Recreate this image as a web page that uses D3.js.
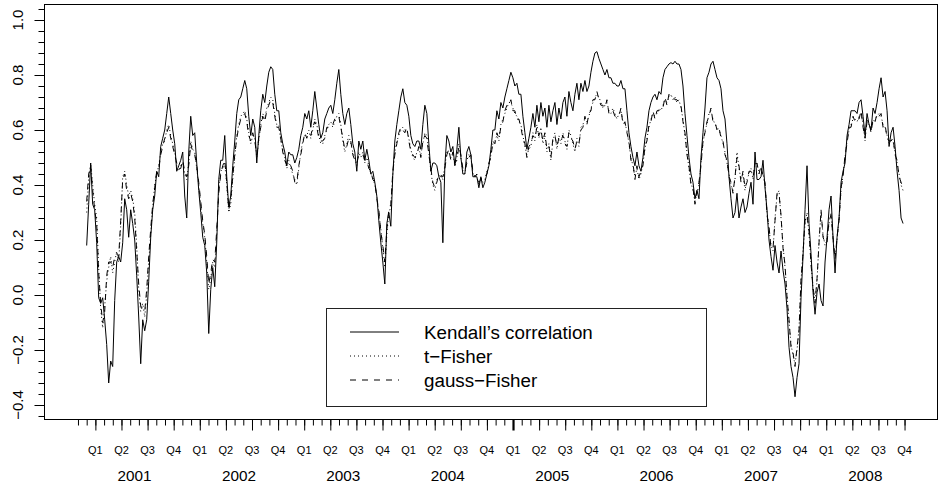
<!DOCTYPE html>
<html>
<head>
<meta charset="utf-8">
<script src="https://cdn.jsdelivr.net/npm/d3@7"></script>
<style>
	body { margin: 0; background: #fff; }
	svg { display: block; font-family: "Liberation Sans", Arial, Helvetica, sans-serif; }
</style>
</head>
<body>
<div id="chart"></div>
<script>
// weekly observations, first one in the first week of 2001
const startYear = 2001;
const years = [2001, 2002, 2003, 2004, 2005, 2006, 2007, 2008];
const quarters = ["Q1", "Q2", "Q3", "Q4"];
const yLabels = [-0.4, -0.2, 0.0, 0.2, 0.4, 0.6, 0.8, 1.0];
const seriesNames = ["Kendall\u2019s correlation", "t\u2212Fisher", "gauss\u2212Fisher"];

const kendall = [
	0.18,0.33,0.48,0.33,0.31,0.19,-0.01,-0.03,-0.01,-0.09,
	-0.18,-0.32,-0.24,-0.26,-0.02,0.12,0.14,0.12,0.19,0.35,
	0.31,0.21,0.31,0.26,0.20,0.07,-0.08,-0.25,-0.09,-0.13,
	-0.09,0.05,0.21,0.31,0.36,0.45,0.43,0.54,0.57,0.60,
	0.66,0.72,0.66,0.60,0.55,0.45,0.47,0.49,0.52,0.36,
	0.28,0.52,0.65,0.58,0.59,0.48,0.38,0.30,0.21,0.18,
	0.08,-0.14,0.02,0.10,0.03,0.19,0.42,0.49,0.49,0.58,
	0.43,0.32,0.36,0.47,0.56,0.66,0.71,0.72,0.75,0.78,
	0.75,0.65,0.58,0.64,0.61,0.48,0.58,0.67,0.73,0.70,
	0.76,0.81,0.83,0.82,0.73,0.67,0.67,0.59,0.55,0.52,
	0.47,0.52,
	0.51,0.51,0.48,0.50,0.53,0.58,0.61,0.66,0.64,0.67,
	0.61,0.67,0.74,0.68,0.62,0.57,0.59,0.64,0.66,0.68,
	0.69,0.66,0.71,0.77,0.82,0.73,0.66,0.62,0.66,0.68,
	0.62,0.55,0.52,0.45,0.56,0.53,0.56,0.49,0.53,0.49,
	0.44,0.45,0.41,0.36,0.27,0.19,0.12,0.04,0.26,0.30,
	0.25,0.44,0.56,0.62,0.67,0.72,0.75,0.70,0.69,0.65,
	0.58,0.55,0.54,0.56,0.56,0.53,0.62,0.69,0.66,0.55,
	0.45,0.48,0.48,0.47,0.43,0.41,0.19,0.47,0.58,0.56,
	0.52,0.54,0.47,0.53,0.61,0.50,0.44,0.44,0.52,0.54,
	0.51,0.43,0.43,0.43,0.39,0.43,0.39,0.41,0.44,0.47,
	0.53,0.60,
	0.60,0.67,0.64,0.70,0.68,0.72,0.75,0.78,0.81,0.79,
	0.76,0.77,0.73,0.73,0.65,0.59,0.53,0.57,0.61,0.66,
	0.61,0.69,0.63,0.70,0.65,0.68,0.61,0.69,0.63,0.67,
	0.70,0.62,0.68,0.64,0.70,0.72,0.65,0.74,0.70,0.67,
	0.73,0.77,0.71,0.77,0.74,0.78,0.74,0.76,0.81,0.85,
	0.88,0.885,0.86,0.84,0.82,0.80,0.82,0.79,0.79,0.77,
	0.77,0.76,0.76,0.78,0.75,0.75,0.67,0.59,0.54,0.50,
	0.47,0.52,0.47,0.45,0.50,0.57,0.61,0.67,0.70,0.72,
	0.73,0.71,0.74,0.73,0.79,0.82,0.83,0.84,0.845,0.84,
	0.85,0.84,0.84,0.82,0.76,0.66,0.58,0.50,0.44,0.41,
	0.35,0.38,
	0.35,0.50,0.59,0.68,0.79,0.81,0.84,0.85,0.82,0.79,
	0.78,0.75,0.67,0.64,0.55,0.43,0.35,0.28,0.30,0.37,
	0.28,0.32,0.35,0.30,0.32,0.37,0.41,0.33,0.52,0.42,
	0.42,0.43,0.49,0.39,0.31,0.20,0.14,0.09,0.18,0.12,
	0.08,0.16,0.09,0.04,-0.05,-0.19,-0.26,-0.30,-0.37,-0.30,
	-0.25,-0.01,0.14,0.31,0.47,0.26,0.15,0.01,-0.07,0.01,
	0.04,-0.02,-0.04,0.12,0.21,0.31,0.36,0.21,0.08,0.21,
	0.28,0.41,0.45,0.48,0.58,0.62,0.67,0.67,0.67,0.66,
	0.70,0.71,0.65,0.58,0.66,0.62,0.60,0.68,0.66,0.70,
	0.75,0.79,0.72,0.74,0.67,0.54,0.59,0.61,0.54,0.45,
	0.38,0.28,0.26
];

const tFisher = [
	0.30,0.42,0.48,0.40,0.33,0.28,0.10,-0.05,-0.12,-0.04,
	0.05,0.10,0.14,0.08,0.12,0.16,0.12,0.25,0.43,0.45,
	0.40,0.36,0.38,0.35,0.30,0.18,0.02,-0.06,-0.03,-0.08,
	0.00,0.12,0.22,0.32,0.40,0.44,0.47,0.52,0.55,0.56,
	0.60,0.62,0.58,0.55,0.52,0.47,0.45,0.47,0.48,0.44,
	0.42,0.48,0.56,0.53,0.52,0.46,0.40,0.33,0.26,0.21,
	0.12,0.02,0.06,0.12,0.10,0.22,0.38,0.45,0.46,0.48,
	0.40,0.30,0.33,0.42,0.50,0.58,0.62,0.65,0.66,0.67,
	0.64,0.59,0.55,0.58,0.57,0.50,0.56,0.62,0.66,0.64,
	0.68,0.70,0.72,0.71,0.66,0.62,0.62,0.56,0.53,0.50,
	0.46,0.49,
	0.46,0.44,0.42,0.40,0.46,0.52,0.56,0.58,0.58,0.60,
	0.57,0.60,0.64,0.62,0.58,0.55,0.55,0.58,0.60,0.62,
	0.63,0.61,0.63,0.65,0.66,0.62,0.56,0.52,0.55,0.58,
	0.55,0.52,0.50,0.47,0.52,0.50,0.52,0.48,0.50,0.47,
	0.44,0.43,0.40,0.36,0.30,0.24,0.17,0.10,0.22,0.30,
	0.32,0.44,0.52,0.56,0.58,0.60,0.61,0.60,0.60,0.57,
	0.53,0.50,0.49,0.52,0.53,0.51,0.55,0.59,0.58,0.52,
	0.45,0.40,0.38,0.42,0.43,0.44,0.42,0.47,0.52,0.52,
	0.50,0.51,0.47,0.50,0.55,0.50,0.45,0.44,0.49,0.51,
	0.50,0.44,0.44,0.43,0.40,0.43,0.41,0.42,0.45,0.47,
	0.51,0.55,
	0.56,0.58,0.56,0.62,0.64,0.66,0.68,0.70,0.70,0.68,
	0.66,0.65,0.63,0.62,0.58,0.54,0.51,0.53,0.54,0.59,
	0.56,0.62,0.57,0.61,0.55,0.58,0.52,0.55,0.49,0.56,
	0.59,0.53,0.58,0.55,0.59,0.56,0.53,0.60,0.58,0.55,
	0.52,0.57,0.54,0.61,0.62,0.64,0.63,0.65,0.68,0.70,
	0.72,0.73,0.72,0.70,0.68,0.69,0.70,0.67,0.66,0.68,
	0.66,0.64,0.66,0.67,0.63,0.62,0.60,0.55,0.50,0.47,
	0.43,0.46,0.42,0.44,0.48,0.53,0.57,0.61,0.64,0.66,
	0.65,0.66,0.68,0.67,0.69,0.71,0.70,0.72,0.73,0.71,
	0.72,0.70,0.71,0.68,0.64,0.58,0.52,0.46,0.41,0.38,
	0.34,0.37,
	0.40,0.48,0.55,0.60,0.62,0.66,0.67,0.64,0.62,0.61,
	0.60,0.58,0.55,0.52,0.48,0.44,0.40,0.38,0.42,0.52,
	0.46,0.42,0.44,0.38,0.42,0.44,0.46,0.42,0.48,0.47,
	0.45,0.46,0.44,0.40,0.30,0.24,0.18,0.16,0.28,0.36,
	0.38,0.28,0.18,0.10,0.00,-0.10,-0.18,-0.22,-0.25,-0.20,
	-0.12,0.05,0.16,0.26,0.30,0.22,0.12,0.02,-0.02,0.05,
	0.20,0.30,0.22,0.18,0.20,0.26,0.30,0.20,0.14,0.20,
	0.28,0.38,0.44,0.50,0.56,0.60,0.62,0.64,0.64,0.63,
	0.65,0.66,0.62,0.56,0.64,0.62,0.60,0.63,0.64,0.65,
	0.66,0.65,0.62,0.61,0.58,0.55,0.57,0.56,0.52,0.48,
	0.44,0.40,0.38
];

const gaussFisher = [
	0.34,0.44,0.47,0.38,0.31,0.26,0.08,-0.03,-0.10,-0.06,
	0.07,0.12,0.12,0.10,0.14,0.15,0.14,0.27,0.42,0.44,
	0.38,0.35,0.37,0.34,0.28,0.16,0.04,-0.04,-0.05,-0.06,
	0.02,0.14,0.24,0.33,0.39,0.45,0.46,0.51,0.54,0.57,
	0.59,0.61,0.57,0.54,0.51,0.48,0.46,0.46,0.49,0.45,
	0.43,0.47,0.55,0.52,0.51,0.47,0.41,0.34,0.27,0.22,
	0.14,0.04,0.08,0.13,0.12,0.24,0.37,0.44,0.47,0.49,
	0.41,0.31,0.35,0.43,0.51,0.57,0.61,0.64,0.65,0.66,
	0.63,0.58,0.56,0.59,0.56,0.51,0.57,0.61,0.65,0.63,
	0.67,0.69,0.71,0.70,0.65,0.61,0.61,0.57,0.52,0.49,
	0.47,0.48,
	0.47,0.45,0.41,0.41,0.47,0.51,0.55,0.59,0.57,0.59,
	0.58,0.61,0.63,0.61,0.57,0.56,0.56,0.57,0.61,0.61,
	0.62,0.62,0.64,0.64,0.65,0.61,0.57,0.53,0.54,0.57,
	0.56,0.51,0.49,0.48,0.51,0.51,0.51,0.49,0.49,0.46,
	0.45,0.42,0.41,0.35,0.31,0.23,0.18,0.12,0.24,0.31,
	0.33,0.45,0.51,0.55,0.59,0.61,0.60,0.59,0.61,0.56,
	0.52,0.51,0.50,0.51,0.54,0.50,0.56,0.58,0.57,0.51,
	0.46,0.41,0.39,0.41,0.44,0.43,0.43,0.46,0.51,0.53,
	0.49,0.52,0.48,0.49,0.54,0.51,0.46,0.45,0.48,0.50,
	0.51,0.45,0.43,0.44,0.41,0.42,0.42,0.43,0.44,0.48,
	0.50,0.56,
	0.55,0.59,0.57,0.61,0.63,0.67,0.69,0.69,0.71,0.67,
	0.67,0.64,0.64,0.61,0.57,0.55,0.50,0.54,0.55,0.58,
	0.57,0.61,0.58,0.60,0.56,0.59,0.53,0.54,0.50,0.57,
	0.58,0.54,0.57,0.56,0.58,0.55,0.54,0.59,0.57,0.56,
	0.53,0.56,0.55,0.60,0.61,0.65,0.62,0.66,0.67,0.71,
	0.71,0.74,0.71,0.69,0.69,0.68,0.71,0.66,0.67,0.67,
	0.65,0.65,0.65,0.68,0.62,0.63,0.59,0.56,0.49,0.48,
	0.42,0.47,0.43,0.45,0.47,0.54,0.56,0.62,0.63,0.67,
	0.64,0.67,0.67,0.68,0.68,0.72,0.69,0.73,0.72,0.72,
	0.71,0.71,0.70,0.69,0.63,0.59,0.51,0.47,0.40,0.39,
	0.33,0.38,
	0.41,0.47,0.56,0.59,0.63,0.65,0.68,0.63,0.63,0.60,
	0.61,0.57,0.56,0.51,0.49,0.43,0.41,0.37,0.43,0.50,
	0.47,0.41,0.45,0.39,0.41,0.45,0.45,0.43,0.47,0.48,
	0.44,0.47,0.43,0.41,0.29,0.25,0.17,0.17,0.27,0.37,
	0.37,0.29,0.17,0.11,-0.01,-0.09,-0.19,-0.21,-0.26,-0.19,
	-0.13,0.06,0.15,0.27,0.29,0.23,0.11,0.03,-0.03,0.06,
	0.19,0.31,0.21,0.19,0.19,0.27,0.29,0.21,0.13,0.21,
	0.27,0.39,0.43,0.51,0.55,0.61,0.61,0.65,0.63,0.64,
	0.64,0.67,0.61,0.57,0.63,0.63,0.59,0.64,0.63,0.66,
	0.65,0.66,0.61,0.62,0.57,0.56,0.56,0.57,0.51,0.49,
	0.43,0.41,0.39
];

const width = 938, height = 486;
const box = { left: 44.5, right: 937.5, top: 4.5, bottom: 419.5 };
const week = 7 / 365.25;

const x = d3.scaleLinear()
	.domain([2000.596, 2009.149])
	.range([box.left, box.right]);
const y = d3.scaleLinear()
	.domain([-0.4527, 1.0564])
	.range([box.bottom, box.top]);

const svg = d3.select("#chart")
	.append("svg")
		.attr("width", width)
		.attr("height", height);

// y axis: minor ticks every 0.04, major every 0.2
svg.append("g")
	.attr("class", "axis y minor")
	.attr("transform", `translate(${box.left}, 0)`)
	.call(d3.axisLeft(y).tickValues(d3.range(-44, 105, 4).map(d => d / 100)).tickSize(6).tickFormat(""))
	.call(g => g.select(".domain").remove());
svg.append("g")
	.attr("class", "axis y major")
	.attr("transform", `translate(${box.left}, 0)`)
	.call(d3.axisLeft(y).tickValues(yLabels).tickSize(10).tickFormat(""))
	.call(g => g.select(".domain").remove());
svg.append("g")
	.attr("class", "labels y")
	.selectAll("text")
	.data(yLabels)
	.join("text")
		.attr("transform", d => `translate(23, ${y(d)}) rotate(-90)`)
		.attr("text-anchor", "middle")
		.attr("font-size", 15)
		.text(d => d3.format(".1f")(d));

// x axis: monthly ticks, longer ones in the middle of each quarter
const monthTicks = d3.range(-1, 95).map(k => startYear + k / 12);
const quarterTicks = years.flatMap(yr => quarters.map((q, i) => ({ t: yr + (1 + 3 * i) / 12, q })));
const boldTick = 2005 + 1 / 12;

svg.append("g")
	.attr("class", "axis x minor")
	.attr("transform", `translate(0, ${box.bottom})`)
	.call(d3.axisBottom(x).tickValues(monthTicks).tickSize(6).tickFormat(""))
	.call(g => g.select(".domain").remove());
svg.append("g")
	.attr("class", "axis x major")
	.attr("transform", `translate(0, ${box.bottom})`)
	.call(d3.axisBottom(x).tickValues(quarterTicks.map(d => d.t)).tickSize(11).tickFormat(""))
	.call(g => g.select(".domain").remove())
	.call(g => g.selectAll(".tick")
		.filter(d => Math.abs(d - boldTick) < 1e-6)
		.select("line")
			.attr("stroke-width", 2.2));

svg.append("g")
	.attr("class", "labels quarter")
	.selectAll("text")
	.data(quarterTicks)
	.join("text")
		.attr("x", d => x(d.t))
		.attr("y", 454)
		.attr("text-anchor", "middle")
		.attr("font-size", 11)
		.text(d => d.q);
svg.append("g")
	.attr("class", "labels year")
	.selectAll("text")
	.data(years)
	.join("text")
		.attr("x", d => x(d + 5.5 / 12))
		.attr("y", 481)
		.attr("text-anchor", "middle")
		.attr("font-size", 15.3)
		.text(d => d);

svg.selectAll(".axis line").attr("stroke", "#000");

// plot box
svg.append("rect")
	.attr("x", box.left)
	.attr("y", box.top)
	.attr("width", box.right - box.left)
	.attr("height", box.bottom - box.top)
	.attr("fill", "none")
	.attr("stroke", "#000");

const styles = [
	{ values: kendall, dash: null },
	{ values: tFisher, dash: "1,3" },
	{ values: gaussFisher, dash: "6,6" },
];

const line = d3.line()
	.x((d, i) => x(startYear + i * week))
	.y(d => y(d));

svg.append("g")
	.attr("class", "series")
	.selectAll("path")
	.data(styles)
	.join("path")
		.attr("d", d => line(d.values))
		.attr("fill", "none")
		.attr("stroke", "#000")
		.attr("stroke-width", 1)
		.attr("stroke-linejoin", "round")
		.attr("stroke-dasharray", d => d.dash);

// legend
let legend = svg.append("g").attr("class", "legend");
legend.append("rect")
	.attr("x", 326.5)
	.attr("y", 308.5)
	.attr("width", 380)
	.attr("height", 98)
	.attr("fill", "#fff")
	.attr("stroke", "#222");

let rows = legend.selectAll("g")
	.data(styles)
	.join("g")
		.attr("transform", (d, i) => `translate(0, ${332 + i * 24})`);
rows.append("line")
	.attr("x1", 350)
	.attr("x2", 399)
	.attr("stroke", "#000")
	.attr("stroke-dasharray", d => d.dash);
rows.append("text")
	.attr("x", 424)
	.attr("y", 7)
	.attr("font-size", 18.8)
	.text((d, i) => seriesNames[i]);
</script>
</body>
</html>
